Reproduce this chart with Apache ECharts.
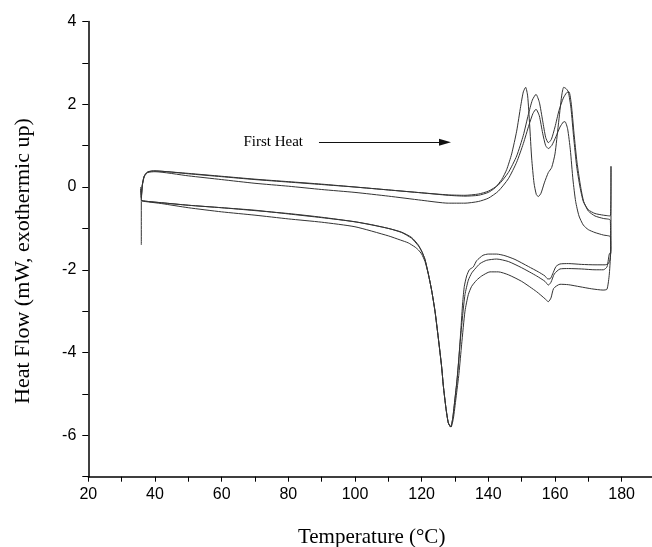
<!DOCTYPE html>
<html><head><meta charset="utf-8">
<script src="https://cdn.jsdelivr.net/npm/echarts@6/dist/echarts.min.js"></script>
<style>html,body{margin:0;padding:0;background:#fff}#c{width:652px;height:547px}</style>
</head><body><div id="c"></div>
<script>
// Heating branches ([temperature °C, heat flow mW])
const heatA = [[35.9,-1.4],[35.9,-0.3],[36.2,0.05],[36.7,0.25],[37.5,0.35],[39,0.39],[42,0.38],[50,0.33],[60,0.26],[70,0.19],[80,0.13],[90,0.07],[100,0.0],[110,-0.07],[120,-0.14],[128,-0.2],[133,-0.22],[137,-0.2],[140,-0.13],[142,-0.02],[144,0.18],[145.5,0.42],[147,0.8],[148.5,1.35],[149.7,1.95],[150.5,2.3],[151.2,2.41],[151.8,2.2],[152.4,1.5],[153,0.7],[153.7,0.1],[154.4,-0.18],[155,-0.23],[155.8,-0.15],[156.8,0.1],[158,0.35],[159,0.47],[160,0.8],[161,1.5],[162,2.2],[162.6,2.41],[163.3,2.38],[164,2.3],[164.8,1.9],[165.6,1.2],[166.5,0.5],[167.5,0.0],[168.5,-0.35],[170,-0.55],[172,-0.64],[174.5,-0.68],[176.6,-0.7],[176.8,0.5],[176.8,-1.5]];
const heatB = [[35.7,0.0],[35.9,-0.25],[36.2,0.05],[36.8,0.27],[37.8,0.36],[40,0.39],[50,0.32],[60,0.25],[70,0.18],[80,0.12],[90,0.06],[100,0.0],[110,-0.07],[120,-0.14],[128,-0.19],[133,-0.2],[137,-0.17],[140,-0.1],[143,0.05],[146,0.35],[148.5,0.75],[150.5,1.25],[152,1.75],[153.2,2.1],[154.3,2.24],[155.3,2.05],[156.3,1.6],[157.2,1.2],[158,1.07],[158.9,1.15],[160,1.45],[161.2,1.85],[162.5,2.15],[163.5,2.28],[164.2,2.3],[164.9,2.0],[165.7,1.3],[166.6,0.6],[167.6,0.05],[168.6,-0.35],[170,-0.58],[172,-0.7],[174.5,-0.76],[176.6,-0.8],[176.7,-1.6]];
const heatC = [[35.7,-0.05],[35.9,-0.28],[36.2,0.03],[36.8,0.25],[37.8,0.35],[40,0.37],[50,0.27],[60,0.18],[70,0.09],[80,0.02],[90,-0.06],[100,-0.13],[110,-0.22],[120,-0.32],[128,-0.39],[133,-0.39],[137,-0.35],[140,-0.27],[143,-0.1],[146,0.2],[148.5,0.6],[150.5,1.05],[152.2,1.5],[153.4,1.78],[154.3,1.88],[155.3,1.72],[156.3,1.3],[157.2,1.0],[158,0.93],[159,1.0],[160.3,1.22],[161.5,1.45],[162.5,1.57],[163,1.58],[163.8,1.4],[164.6,0.9],[165.4,0.17],[166.2,-0.35],[167.2,-0.7],[168.5,-0.92],[170,-1.03],[172,-1.1],[174.5,-1.16],[176.6,-1.2],[176.7,-1.5]];
// Cooling branches
const coolA = [[176.5,-1.75],[176,-1.85],[175,-1.88],[172,-1.88],[168,-1.87],[164,-1.85],[161.5,-1.86],[160.3,-1.92],[159.3,-2.1],[158.5,-2.22],[157.8,-2.22],[157,-2.15],[155,-2.05],[152,-1.92],[148,-1.75],[145,-1.66],[142.5,-1.62],[140,-1.62],[138.4,-1.65],[136.5,-1.78],[135.5,-1.93],[134.3,-2.0],[133.5,-2.15],[132.8,-2.4],[132.3,-2.8],[131.8,-3.4],[131.2,-4.1],[130.5,-4.75],[129.9,-5.2],[129.3,-5.6],[128.7,-5.8],[128,-5.7],[127.3,-5.35],[126.5,-4.8],[126,-4.35],[125,-3.65],[124,-3.0],[123,-2.5],[122,-2.1],[121,-1.75],[120,-1.55],[119,-1.4],[117,-1.22],[114,-1.09],[110,-1.0],[105,-0.91],[100,-0.84],[90,-0.73],[80,-0.64],[70,-0.57],[60,-0.5],[50,-0.44],[42,-0.38],[38,-0.35],[36.2,-0.33],[35.9,-0.3]];
const coolB = [[176.4,-1.6],[175.6,-1.93],[174.5,-2.0],[172,-2.0],[168,-1.98],[164,-1.97],[161.5,-1.98],[159.8,-2.1],[158.8,-2.3],[158,-2.37],[157,-2.28],[154.5,-2.15],[150,-1.95],[146,-1.8],[142.5,-1.74],[139.5,-1.77],[137.5,-1.85],[136,-1.98],[135,-2.08],[134,-2.25],[133,-2.6],[132.3,-3.1],[131.5,-3.8],[130.7,-4.6],[130,-5.1],[129.3,-5.6],[128.7,-5.8],[128,-5.7],[127.3,-5.35],[126.5,-4.8],[126,-4.35],[125,-3.65],[124,-3.0],[123,-2.5],[122,-2.1],[121,-1.75],[120,-1.55],[119,-1.42],[117,-1.24],[114,-1.1],[110,-1.0],[100,-0.84],[90,-0.74],[80,-0.65],[70,-0.56],[60,-0.5],[50,-0.44],[42,-0.38],[38,-0.35],[36.2,-0.33],[35.9,-0.3]];
const coolC = [[176.7,-1.5],[176.3,-2.1],[175.6,-2.47],[174.4,-2.49],[171,-2.46],[167.5,-2.41],[164,-2.36],[161.5,-2.35],[159.6,-2.45],[158.8,-2.68],[158,-2.77],[157,-2.7],[154.5,-2.53],[150,-2.28],[146,-2.12],[143,-2.05],[140.5,-2.05],[138,-2.15],[136.5,-2.25],[135,-2.4],[134,-2.6],[133,-3.0],[132,-3.8],[131.2,-4.5],[130.3,-5.1],[129.5,-5.6],[128.8,-5.8],[128,-5.7],[127.3,-5.35],[126.5,-4.8],[126,-4.35],[125,-3.65],[124,-3.0],[123,-2.5],[122,-2.1],[121,-1.8],[120,-1.62],[119,-1.52],[118,-1.45],[116,-1.35],[113.6,-1.28],[110,-1.18],[100,-0.96],[90,-0.85],[80,-0.77],[70,-0.68],[60,-0.6],[50,-0.5],[42,-0.4],[38,-0.36],[36.2,-0.34],[35.9,-0.32]];
// Annotation
const annotText = 'First Heat';
const arrowFrom = [89.2, 1.08];
const arrowTo = [127.0, 1.08];

const chart = echarts.init(document.getElementById('c'), null, {renderer:'canvas'});
const lineStyle = {color:'#333', width:1};
const mk = (name, data) => ({name, type:'line', data, showSymbol:false, smooth:0.2, lineStyle, animation:false, silent:true});
const series = [
  mk('A', heatA.concat(coolA)),
  mk('B', heatB.concat(coolB)),
  mk('C', heatC.concat(coolC))
];
series[0].markLine = {
  silent:true, animation:false,
  lineStyle:{color:'#111', width:1, type:'solid'},
  label:{show:true, position:'start', formatter:annotText, distance:16, color:'#000', fontFamily:'Liberation Serif', fontSize:15},
  data:[[{coord:arrowFrom, symbol:'none'},{coord:arrowTo, symbol:'triangle', symbolSize:[7,12]}]]
};
chart.setOption({
  backgroundColor:'#fff',
  grid:{left:88.3, top:21.5, width:566.7, height:455.2, containLabel:false, outerBoundsMode:'none'},
  xAxis:{type:'value', min:20, max:190, interval:10,
    axisLine:{show:true, onZero:false, lineStyle:{color:'#000', width:1.5}},
    axisTick:{show:true, length:5, lineStyle:{color:'#000', width:1}},
    axisLabel:{margin:10, color:'#000', fontFamily:'Liberation Sans', fontSize:16, formatter:v=> (v%20===0 && v<190) ? String(v) : ''},
    splitLine:{show:false},
    name:'Temperature (\u00B0C)', nameLocation:'middle', nameGap:50,
    nameTextStyle:{color:'#000', fontFamily:'Liberation Serif', fontSize:21}
  },
  yAxis:{type:'value', min:-7, max:4, interval:1,
    axisLine:{show:true, onZero:false, lineStyle:{color:'#000', width:1.5}},
    axisTick:{show:true, length:6, lineStyle:{color:'#000', width:1}},
    axisLabel:{margin:12, color:'#000', fontFamily:'Liberation Sans', fontSize:16, formatter:v=> (v%2===0) ? String(v) : ''},
    splitLine:{show:false},
    name:'Heat Flow (mW, exothermic up)', nameLocation:'middle', nameGap:54,
    nameTextStyle:{color:'#000', fontFamily:'Liberation Serif', fontSize:22, padding:[0,24,0,0]}
  },
  series
});
</script></body></html>
